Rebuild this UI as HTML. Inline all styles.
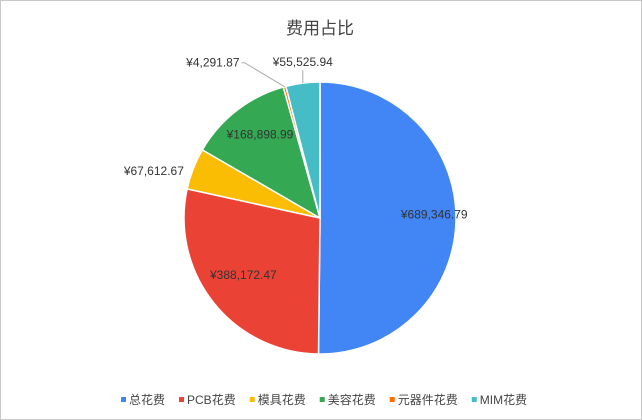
<!DOCTYPE html>
<html><head><meta charset="utf-8"><style>
html,body{margin:0;padding:0;background:#fff}
#wrap{position:relative;width:640px;height:418px;border:1px solid #c8c8c8;overflow:hidden}
svg text{font-family:"Liberation Sans","Noto Sans CJK SC",sans-serif}
</style></head><body>
<div id="wrap">
<svg id="chart" width="640" height="418">
<text x="319" y="33" text-anchor="middle" font-size="17" fill="#444">费用占比</text>
<g id="slices"></g><g id="labels"></g><g id="legend"></g>
</svg>
</div>
<script>
const categories=["总花费","PCB花费","模具花费","美容花费","元器件花费","MIM花费"];
const values=[689346.79,388172.47,67612.67,168898.99,4291.87,55525.94];
const valueLabels=["¥689,346.79","¥388,172.47","¥67,612.67","¥168,898.99","¥4,291.87","¥55,525.94"];
const colors=["#4285F4","#EA4335","#FBBC04","#34A853","#FF6D01","#46BDC6"];
const NS="http://www.w3.org/2000/svg";
const cx=319,cy=217,R=136;
const total=values.reduce((a,b)=>a+b,0);
function pt(f,r){const a=f*2*Math.PI;return [cx+r*Math.sin(a),cy-r*Math.cos(a)];}
const gS=document.getElementById('slices'),gL=document.getElementById('labels'),gLeg=document.getElementById('legend');
let cum=0;
values.forEach((v,i)=>{
  const f0=cum/total,f1=(cum+v)/total;cum+=v;
  const p0=pt(f0,R),p1=pt(f1,R);const large=(f1-f0)>0.5?1:0;
  const p=document.createElementNS(NS,'path');
  p.setAttribute('d',`M${cx},${cy}L${p0[0]},${p0[1]}A${R},${R} 0 ${large} 1 ${p1[0]},${p1[1]}Z`);
  p.setAttribute('fill',colors[i]);p.setAttribute('stroke','#fff');p.setAttribute('stroke-width','1.5');
  
  
  gS.appendChild(p);
  const fm=(f0+f1)/2,frac=f1-f0;
  const t=document.createElementNS(NS,'text');
  t.setAttribute('font-size','12');t.setAttribute('fill','#333');
  t.textContent=valueLabels[i];
  
  
  if(frac>0.08){
    const q=pt(fm,frac>0.4?R*0.84:R*0.72);
    t.setAttribute('x',q[0]);t.setAttribute('y',q[1]+(frac>0.2?0:-2));t.setAttribute('text-anchor','middle');
  }else if(frac>0.02 && fm<0.9){
    const q=pt(fm,R+10);
    t.setAttribute('x',q[0]);t.setAttribute('y',q[1]+10);t.setAttribute('text-anchor','end');
  }else{
    const e=pt(fm,R);
    const ln=document.createElementNS(NS,'polyline');
    let tx,ty,anchor;
    if(frac>0.02){tx=e[0];ty=e[1]-17;anchor='middle';
      ln.setAttribute('points',`${e[0]},${e[1]} ${e[0]},${e[1]-13}`);}
    else{tx=e[0]-45;ty=e[1]-20;anchor='end';
      ln.setAttribute('points',`${e[0]},${e[1]} ${e[0]-40},${e[1]-24} ${e[0]-43},${e[1]-24}`);}
    ln.setAttribute('fill','none');ln.setAttribute('stroke','#aaa');
    
    
    gL.appendChild(ln);
    t.setAttribute('x',tx);t.setAttribute('y',ty);t.setAttribute('text-anchor',anchor);
  }
  gL.appendChild(t);
});
let lx=120;
categories.forEach((c,i)=>{
  const g=document.createElementNS(NS,'g');
  
  
  const r=document.createElementNS(NS,'rect');
  r.setAttribute('x',lx);r.setAttribute('y',396);r.setAttribute('width',5);r.setAttribute('height',5);r.setAttribute('fill',colors[i]);
  const t=document.createElementNS(NS,'text');
  t.setAttribute('x',lx+8);t.setAttribute('y',403);t.setAttribute('font-size','12');t.setAttribute('fill','#444');
  t.textContent=c;
  g.appendChild(r);g.appendChild(t);gLeg.appendChild(g);
  lx+=t.getComputedTextLength()+22;
});
</script>
</body></html>
